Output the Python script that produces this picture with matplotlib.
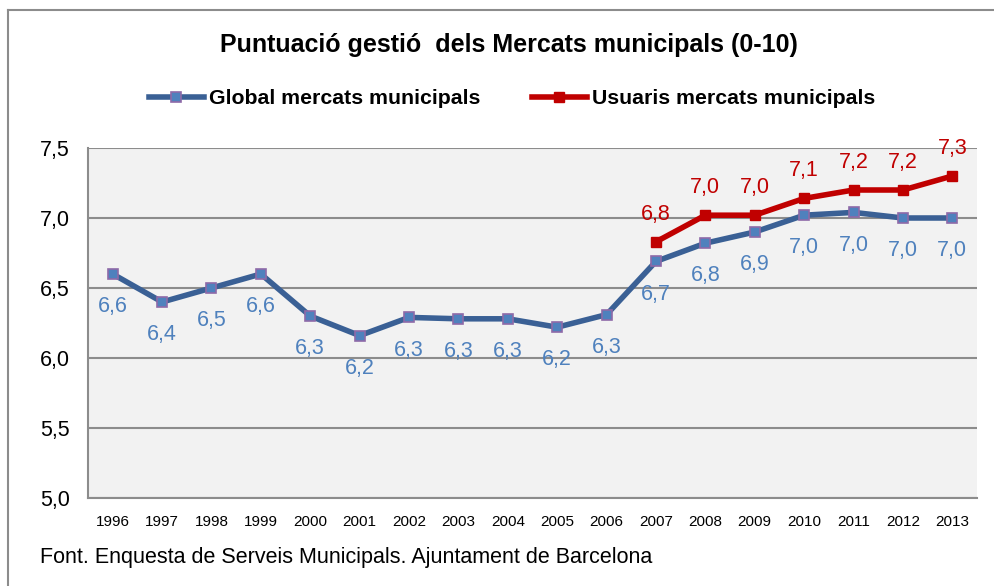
import matplotlib
matplotlib.use("Agg")
import matplotlib.pyplot as plt
from matplotlib.lines import Line2D
from matplotlib.ticker import FixedLocator, FuncFormatter

plt.rcParams["font.family"] = ["Liberation Sans", "DejaVu Sans"]

years = ["1996", "1997", "1998", "1999", "2000", "2001", "2002", "2003", "2004",
         "2005", "2006", "2007", "2008", "2009", "2010", "2011", "2012", "2013"]
global_scores = [6.60, 6.40, 6.50, 6.60, 6.30, 6.16, 6.29, 6.28, 6.28,
                 6.22, 6.31, 6.69, 6.82, 6.90, 7.02, 7.04, 7.00, 7.00]
usuaris_years = ["2007", "2008", "2009", "2010", "2011", "2012", "2013"]
usuaris_scores = [6.83, 7.02, 7.02, 7.14, 7.20, 7.20, 7.30]
y_ticks = [5.0, 5.5, 6.0, 6.5, 7.0, 7.5]

BLUE_LINE = "#3A6095"
BLUE_FACE = "#4F81BD"
BLUE_EDGE = "#8E6AA8"
BLUE_TEXT = "#4F81BD"
RED = "#C00000"
GRID = "#8C8C8C"


def fmt(v):
    return f"{v:.1f}".replace(".", ",")


fig = plt.figure(figsize=(9.94, 5.86), dpi=100)
ax = fig.add_axes([88 / 994, 1 - 498 / 586, (977 - 88) / 994, (498 - 148) / 586])
ax.set_facecolor("#F2F2F2")

gx = list(range(len(years)))
ux = [years.index(y) for y in usuaris_years]

ax.plot(gx, global_scores, color=BLUE_LINE, lw=4, marker="s", ms=7,
        mfc=BLUE_FACE, mec=BLUE_EDGE, mew=1.2, zorder=3)
ax.plot(ux, usuaris_scores, color=RED, lw=4, marker="s", ms=7,
        mfc=RED, mec=RED, zorder=4)

for x, v in zip(gx, global_scores):
    ax.annotate(fmt(v), (x, v), xytext=(0, -23.5), textcoords="offset points",
                ha="center", va="center", color=BLUE_TEXT, fontsize=15.5)
for x, v in zip(ux, usuaris_scores):
    ax.annotate(fmt(v), (x, v), xytext=(0, 20), textcoords="offset points",
                ha="center", va="center", color=RED, fontsize=15.5)

ax.set_xlim(-0.5, len(years) - 0.5)
ax.set_ylim(5.0, 7.5)
ax.set_xticks(gx)
ax.set_xticklabels(years, fontsize=11)
ax.yaxis.set_major_locator(FixedLocator(y_ticks))
ax.yaxis.set_major_formatter(FuncFormatter(lambda v, _: fmt(v)))
ax.tick_params(axis="y", labelsize=15.5, length=0, pad=13)
ax.tick_params(axis="x", length=0, pad=12)
ax.grid(axis="y", color=GRID, lw=1.5)
ax.set_axisbelow(True)
for side in ("top", "right"):
    ax.spines[side].set_visible(False)
ax.spines["left"].set_color(GRID)
ax.spines["bottom"].set_color(GRID)
ax.spines["left"].set_linewidth(1.5)
ax.spines["bottom"].set_linewidth(1.5)

fig.text(509 / 994, 1 - 45 / 586, "Puntuació gestió  dels Mercats municipals (0-10)",
         ha="center", va="center", fontsize=18, fontweight="bold")

handles = [
    Line2D([], [], color=BLUE_LINE, lw=4, marker="s", ms=7, mfc=BLUE_FACE,
           mec=BLUE_EDGE, mew=1.2),
    Line2D([], [], color=RED, lw=4, marker="s", ms=7, mfc=RED, mec=RED),
]
fig.legend(handles, ["Global mercats municipals", "Usuaris mercats municipals"],
           loc="center", bbox_to_anchor=(512 / 994, 1 - 99 / 586), ncol=2,
           frameon=False, prop={"weight": "bold", "size": 15.3},
           handlelength=2.6, handletextpad=0.25, columnspacing=2.4)

fig.text(40 / 994, 1 - 557 / 586,
         "Font. Enquesta de Serveis Municipals. Ajuntament de Barcelona",
         ha="left", va="center", fontsize=15.5)

# outer frame: only top and left edges fall inside the canvas
fig.add_artist(Line2D([8 / 994, 1], [1 - 10 / 586, 1 - 10 / 586],
                      color="#8C8C8C", lw=1.5, transform=fig.transFigure))
fig.add_artist(Line2D([8 / 994, 8 / 994], [0, 1 - 10 / 586],
                      color="#8C8C8C", lw=1.5, transform=fig.transFigure))

fig.savefig("out.png", dpi=100)
